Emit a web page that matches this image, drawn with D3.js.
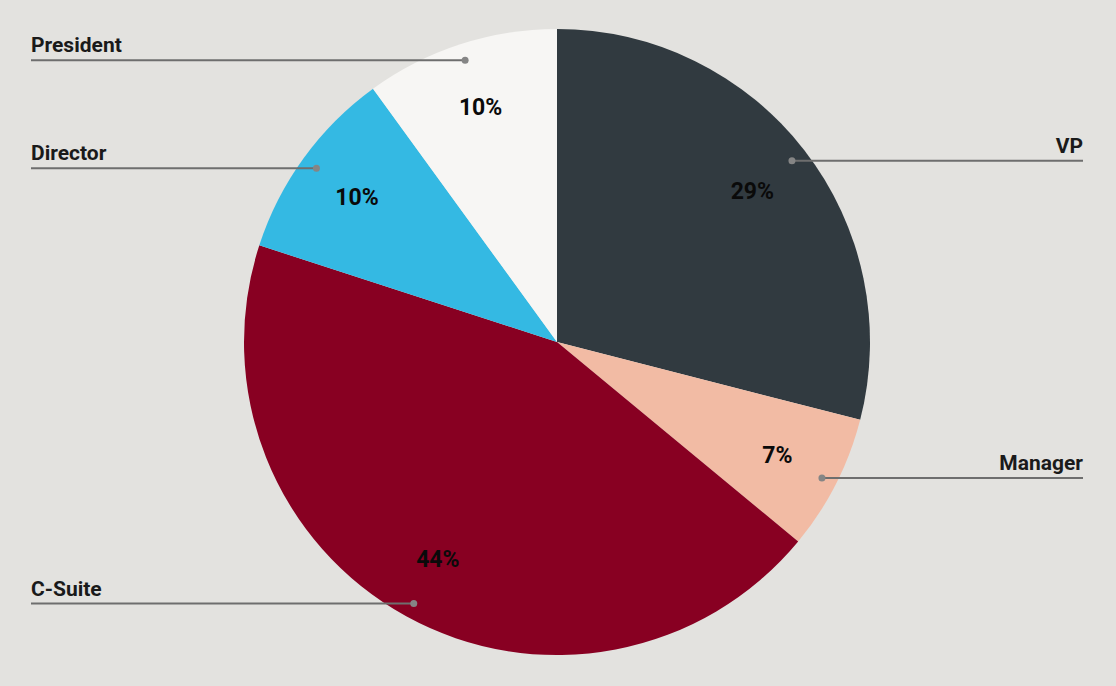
<!DOCTYPE html>
<html><head><meta charset="utf-8">
<script src="https://cdn.jsdelivr.net/npm/d3@7"></script>
<style>body{margin:0;background:#e3e2df;}svg{display:block;}</style>
</head><body>
<svg id="c" width="1116" height="686"></svg>
<script>
const categories = ["VP", "Manager", "C-Suite", "Director", "President"];
const values = [29, 7, 44, 10, 10];
const colors = ["#313a40", "#f2bba4", "#880022", "#34b9e3", "#f7f6f4"];

const W = 1116, H = 686;
const cx = 557, cy = 342, R = 313;
const svg = d3.select("#c");
svg.append("rect").attr("width", W).attr("height", H).attr("fill", "#e3e2df");
const g = svg.append("g").attr("transform", `translate(${cx},${cy})`);
const data = categories.map((c, i) => ({ c, v: values[i], col: colors[i] }));
const pie = d3.pie().value(d => d.v).sort(null);
const arcs = pie(data);
const arc = d3.arc().innerRadius(0).outerRadius(R);
g.selectAll("path.s").data(arcs).enter().append("path")
  .attr("d", arc).attr("fill", d => d.data.col);

const lblArc = d3.arc().innerRadius(R * 0.79).outerRadius(R * 0.79);
g.selectAll("text.p").data(arcs).enter().append("text")
  .attr("transform", d => `translate(${lblArc.centroid(d)})`)
  .attr("text-anchor", "middle").attr("dy", "0.36em")
  .attr("font-family", "Roboto").attr("font-weight", "bold").attr("font-size", 23)
  .attr("fill", "#0a0a0a")
  .text(d => d3.format(".0f")(d.data.v) + "%");

const dotArc = d3.arc().innerRadius(R * 0.95).outerRadius(R * 0.95);
const leftX = 31 - cx, rightX = 1083 - cx;
arcs.forEach(d => {
  const [x, y] = dotArc.centroid(d);
  const mid = (d.startAngle + d.endAngle) / 2;
  const right = mid < Math.PI;
  const ex = right ? rightX : leftX;
  g.append("line").attr("x1", x).attr("y1", y + 1).attr("x2", ex).attr("y2", y + 1)
    .attr("stroke", "#6e6e6e").attr("stroke-width", 2);
  g.append("circle").attr("cx", x).attr("cy", y + 1).attr("r", 3.5).attr("fill", "#858585");
  g.append("text").attr("x", ex).attr("y", y - 7)
    .attr("text-anchor", right ? "end" : "start")
    .attr("font-family", "Roboto").attr("font-weight", "bold").attr("font-size", 21)
    .attr("fill", "#1a1a1a").text(d.data.c);
});
</script>
</body></html>
